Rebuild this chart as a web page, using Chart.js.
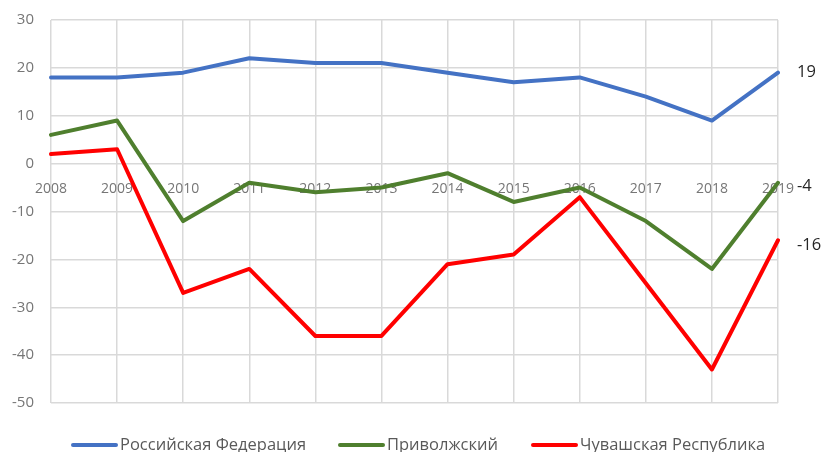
<!DOCTYPE html>
<html>
<head>
<meta charset="utf-8">
<script src="https://cdn.jsdelivr.net/npm/chart.js@4/dist/chart.umd.min.js"></script>
<style>
  html, body { margin: 0; padding: 0; background: #ffffff; }
  #wrap { width: 826px; height: 452px; }
</style>
</head>
<body>
<div id="wrap"><canvas id="c" width="826" height="452"></canvas></div>
<script>
const years = ['2008','2009','2010','2011','2012','2013','2014','2015','2016','2017','2018','2019'];
const russia = [18, 18, 19, 22, 21, 21, 19, 17, 18, 14, 9, 19];
const privolzhsky = [6, 9, -12, -4, -6, -5, -2, -8, -5, -12, -22, -4];
const chuvash = [2, 3, -27, -22, -36, -36, -21, -19, -7, -25, -43, -16];
const seriesNames = ['Российская Федерация', 'Приволжский', 'Чувашская Республика'];
const seriesColors = ['#4472C4', '#4F7F2E', '#FF0000'];
const endLabels = ['19', '-4', '-16'];

const legendPos = [
  { lineX: 73, textX: 120 },
  { lineX: 340, textX: 387 },
  { lineX: 533, textX: 580 }
];
const endLabelDy = [0, 4, 5];

const endLabelPlugin = {
  id: 'endLabels',
  afterDatasetsDraw(chart) {
    const ctx = chart.ctx;
    ctx.save();
    ctx.font = '16.5px "Open Sans", "Liberation Sans", sans-serif';
    ctx.fillStyle = '#262626';
    ctx.textAlign = 'left';
    ctx.textBaseline = 'middle';
    chart.data.datasets.forEach((ds, i) => {
      const meta = chart.getDatasetMeta(i);
      const pt = meta.data[meta.data.length - 1];
      ctx.fillText(endLabels[i], pt.x + 19, pt.y + endLabelDy[i]);
    });
    ctx.restore();
  },
  afterDraw(chart) {
    const ctx = chart.ctx;
    ctx.save();
    const y = 445;
    chart.data.datasets.forEach((ds, i) => {
      ctx.strokeStyle = seriesColors[i];
      ctx.lineWidth = 4;
      ctx.lineCap = 'round';
      ctx.beginPath();
      ctx.moveTo(legendPos[i].lineX, y);
      ctx.lineTo(legendPos[i].lineX + 43, y);
      ctx.stroke();
      ctx.font = '16.5px "Open Sans", "Liberation Sans", sans-serif';
      ctx.fillStyle = '#595959';
      ctx.textAlign = 'left';
      ctx.textBaseline = 'alphabetic';
      ctx.fillText(seriesNames[i], legendPos[i].textX, 450);
    });
    ctx.restore();
  }
};

new Chart(document.getElementById('c'), {
  type: 'line',
  data: {
    labels: years,
    datasets: [
      { label: seriesNames[0], data: russia, borderColor: seriesColors[0], backgroundColor: seriesColors[0] },
      { label: seriesNames[1], data: privolzhsky, borderColor: seriesColors[1], backgroundColor: seriesColors[1] },
      { label: seriesNames[2], data: chuvash, borderColor: seriesColors[2], backgroundColor: seriesColors[2] }
    ]
  },
  options: {
    responsive: false,
    animation: false,
    devicePixelRatio: 1,
    elements: {
      line: { borderWidth: 4, tension: 0, borderJoinStyle: 'round', borderCapStyle: 'round' },
      point: { radius: 0, hoverRadius: 0 }
    },
    layout: { padding: { top: 20, right: 48, bottom: 49, left: 0 } },
    plugins: {
      legend: { display: false },
      tooltip: { enabled: false }
    },
    scales: {
      x: {
        type: 'category',
        position: { y: 0 },
        offset: false,
        grid: { color: '#d9d9d9', lineWidth: 1.5, drawTicks: false },
        border: { display: false },
        ticks: {
          color: '#767676',
          font: { family: '"Open Sans", "Liberation Sans", sans-serif', size: 14 },
          padding: 17,
          maxRotation: 0,
          autoSkip: false
        },
        afterFit(scale) { scale.height = 0; }
      },
      y: {
        min: -50,
        max: 30,
        grid: { color: '#d9d9d9', lineWidth: 1.5, drawTicks: false },
        border: { display: false },
        ticks: {
          stepSize: 10,
          color: '#767676',
          font: { family: '"Open Sans", "Liberation Sans", sans-serif', size: 15 },
          padding: 17
        },
        afterFit(scale) { scale.width = 51; scale.paddingTop = 0; scale.paddingBottom = 0; }
      }
    }
  },
  plugins: [endLabelPlugin]
});
</script>
</body>
</html>
